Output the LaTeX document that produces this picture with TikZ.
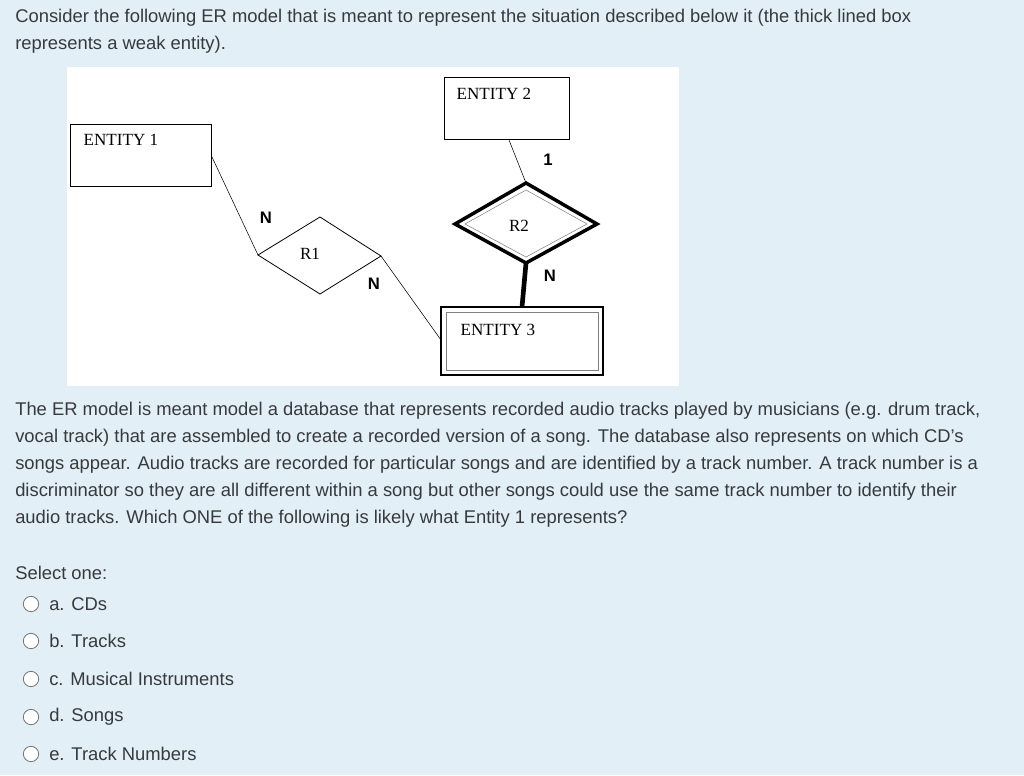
\documentclass[tikz,border=0pt]{standalone}
\usepackage{fontspec}
\setmainfont{Liberation Sans}
\newfontfamily\erfont{Liberation Serif}
\usetikzlibrary{shapes.geometric}
\definecolor{bgc}{HTML}{E2EFF7}
\definecolor{txt}{HTML}{373A3C}
\begin{document}
\begin{tikzpicture}[x=0.75pt,y=-0.75pt,
  body/.style={anchor=west,text=txt,font=\fontsize{13.8}{16}\selectfont,inner sep=0pt},
  erf/.style={font=\erfont\fontsize{12.8}{15}\selectfont},
  lbl/.style={font=\bfseries\fontsize{12.5}{15}\selectfont,fill=white,inner sep=1pt},
  radio/.style={circle,draw=txt!70,line width=0.6pt,minimum size=11.5pt,inner sep=0pt}]
\fill[bgc] (0,0) rectangle (1024,775);
\useasboundingbox (0,0) rectangle (1024,775);
\fill[white] (67,67) rectangle (679,386);
\node[body] (t1) at (15,18) {Consider the following ER model that is meant to represent the situation described below it (the thick lined box};
\node[body] (t2) at (15,45) {represents a weak entity).};
% entities
\draw[line width=0.7pt] (70,124) rectangle (211,186);
\node[erf,anchor=west] (e1) at (79,140) {ENTITY 1};
\draw[line width=0.7pt] (444,77) rectangle (569,139);
\node[erf,anchor=west] (e2) at (452,94) {ENTITY 2};
\draw[line width=2.2pt] (441,307) rectangle (603,375);
\draw[line width=0.5pt,gray] (446,312) rectangle (598,370);
\node[erf,anchor=west] (e3) at (456,330) {ENTITY 3};
% diamonds
\coordinate (r1l) at (258,255); \coordinate (r1t) at (320,217);
\coordinate (r1r) at (381,256); \coordinate (r1b) at (320,294);
\draw[line width=0.6pt] (r1l)--(r1t)--(r1r)--(r1b)--cycle;
\node[erf] (r1) at (310,254) {R1};
\coordinate (r2l) at (455,224); \coordinate (r2t) at (526,183);
\coordinate (r2r) at (597,224); \coordinate (r2b) at (526,263);
\draw[line width=2.6pt,line join=miter] (r2l)--(r2t)--(r2r)--(r2b)--cycle;
\draw[line width=0.4pt,gray] (465,224)--(526,190)--(587,224)--(526,257)--cycle;
\node[erf] (r2) at (519,226) {R2};
% connectors
\coordinate (e1r) at (212,157); \coordinate (e3l) at (441,340);
\coordinate (e2b) at (509,140); \coordinate (e3t) at (522,307);
\draw[line width=0.4pt] (e1r)--(r1l);
\draw[line width=0.4pt] (r1r)--(e3l);
\draw[line width=0.4pt] (e2b)--(r2t);
\draw[line width=3.5pt] (r2b)--(e3t);
\node[lbl] (n1) at (266,218) {N};
\node[lbl] (n2) at (374,284) {N};
\node[lbl] (o1) at (548,160) {1};
\node[lbl] (n3) at (550,276) {N};
% paragraph
\node[body] (p1) at (15,411) {The ER model is meant model a database that represents recorded audio tracks played by musicians (e.g. drum track,};
\node[body] (p2) at (15,438) {vocal track) that are assembled to create a recorded version of a song. The database also represents on which CD's};
\node[body] (p3) at (15,465) {songs appear. Audio tracks are recorded for particular songs and are identified by a track number. A track number is a};
\node[body] (p4) at (15,492) {discriminator so they are all different within a song but other songs could use the same track number to identify their};
\node[body] (p5) at (15,519) {audio tracks. Which ONE of the following is likely what Entity 1 represents?};
\node[body] (sel) at (15,573) {Select one:};
\foreach \y/\t [count=\i] in {604/a. CDs,641/b. Tracks,679/c. Musical Instruments,717/d. Songs,754/e. Track Numbers}{
  \node[radio,fill=white] (c\i) at (31,\y) {};
  \node[body] (o\i) at (49,\y) {\t};
}
\end{tikzpicture}
\end{document}
